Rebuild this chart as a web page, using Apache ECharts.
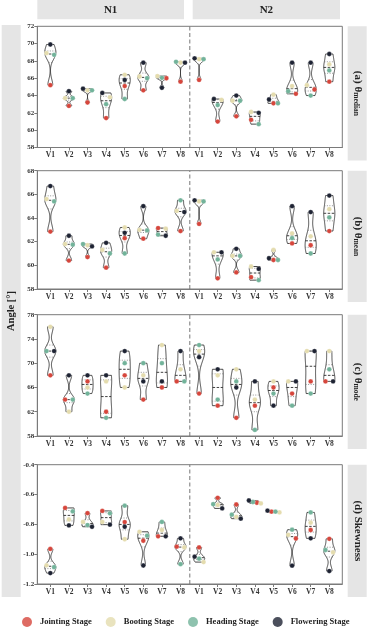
<!DOCTYPE html>
<html><head><meta charset="utf-8">
<script src="https://cdn.jsdelivr.net/npm/echarts@6/dist/echarts.min.js"></script>
<style>html,body{margin:0;padding:0;background:#fff}#c{width:374px;height:630px}</style>
</head><body><div id="c"></div>
<script>
// ---------------- data ----------------
const categories = ['V1','V2','V3','V4','V5','V6','V7','V8'];
const groups = ['N1','N2'];
const stages = ['Jointing Stage','Booting Stage','Heading Stage','Flowering Stage'];
const panelTitles = ['(a) θ|median','(b) θ|mean','(c) θ|mode','(d) Skewness|'];
const yMins = [58, 58, 58, -1.2];
const yMaxs = [72, 68, 78, -0.4];
const ySteps = [2, 2, 4, 0.2];
const yLabelDigits = [0, 0, 0, 1];
const yAxisName = 'Angle [°]';

// each array: N1 V1..V8 then N2 V1..V8
const medianJointing  = [65.2, 62.8, 63.2, 61.4, 65.1, 64.6, 66.0, 65.6, 65.8, 61.0, 61.6, 61.2, 63.1, 64.2, 64.7, 65.6];
const medianBooting   = [68.9, 63.7, 64.6, 63.8, 66.4, 66.2, 66.25, 67.8, 68.2, 63.5, 63.4, 62.1, 64.1, 65.1, 65.2, 67.6];
const medianHeading   = [68.7, 63.7, 64.6, 63.0, 63.6, 66.0, 66.05, 67.9, 68.2, 62.9, 63.4, 60.7, 63.1, 64.5, 64.0, 66.9];
const medianFlowering = [69.9, 64.5, 64.8, 64.3, 65.8, 67.8, 64.9, 67.8, 68.3, 63.6, 64.0, 62.0, 63.55, 67.8, 67.8, 68.8];

const meanJointing  = [62.85, 60.4, 60.7, 59.8, 62.3, 62.25, 63.15, 62.9, 63.5, 58.9, 59.4, 59.0, 60.45, 61.85, 61.7, 62.9];
const meanBooting   = [65.6, 61.8, 61.7, 61.3, 63.2, 63.0, 63.1, 64.6, 65.4, 61.1, 60.8, 59.9, 61.3, 62.7, 62.45, 64.75];
const meanHeading   = [65.4, 61.75, 61.8, 61.0, 61.0, 62.95, 62.6, 65.5, 65.4, 60.5, 60.8, 58.75, 60.45, 62.3, 61.0, 64.05];
const meanFlowering = [66.7, 62.5, 61.6, 61.9, 62.75, 65.0, 62.5, 64.5, 65.5, 61.1, 61.4, 59.7, 60.6, 65.0, 64.5, 65.9];

const modeJointing  = [68, 64, 67, 62, 68, 64, 66, 67, 65, 63, 61, 63, 66, 65, 67, 67];
const modeBooting   = [76, 62, 66, 67, 66, 68, 73, 69, 72, 68, 69, 64, 67, 67, 72, 72];
const modeHeading   = [72, 64, 65, 61, 70, 70, 70, 67, 73, 64, 67, 59, 65, 63, 65, 69];
const modeFlowering = [72, 68, 68, 68, 72, 67, 67, 72, 71, 69, 66, 67, 63, 67, 72, 67];

const skewJointing  = [-0.965, -0.69, -0.725, -0.71, -0.785, -0.91, -0.88, -0.95, -0.955, -0.622, -0.667, -0.655, -0.715, -0.895, -0.838, -0.897];
const skewBooting   = [-1.075, -0.767, -0.784, -0.784, -0.9, -0.85, -0.838, -0.955, -1.053, -0.67, -0.75, -0.66, -0.72, -0.87, -0.789, -0.988];
const skewHeading   = [-1.087, -0.713, -0.805, -0.726, -0.675, -0.876, -0.784, -1.067, -1.03, -0.665, -0.735, -0.65, -0.715, -0.836, -0.72, -0.972];
const skewFlowering = [-1.127, -0.807, -0.816, -0.802, -0.816, -1.076, -0.88, -0.894, -1.017, -0.693, -0.762, -0.64, -0.708, -1.077, -0.894, -1.113];

const panels = [
  [medianJointing, medianBooting, medianHeading, medianFlowering],
  [meanJointing, meanBooting, meanHeading, meanFlowering],
  [modeJointing, modeBooting, modeHeading, modeFlowering],
  [skewJointing, skewBooting, skewHeading, skewFlowering]
];

// ---------------- style / layout ----------------
const stageColors = ['#d6463c', '#e4dcae', '#72b39a', '#1e2333'];
const FONT = "'Liberation Serif','DejaVu Serif',serif";
const gridTops = [26.3, 170.7, 314.7, 464.7];
const gridHeights = [121.2, 118.3, 121.3, 119.3];
const gridLeft = 37.3, gridWidth = 305;
const stripColor = '#e5e5e5';
const xs = Array.from({length: categories.length * groups.length}, (_, i) => i);

function quantile(sorted, p) {
  const h = (sorted.length - 1) * p, lo = Math.floor(h);
  const hi = Math.min(lo + 1, sorted.length - 1);
  return sorted[lo] + (h - lo) * (sorted[hi] - sorted[lo]);
}

function renderViolin(params, api) {
  const x = api.value(0);
  const vals = [api.value(1), api.value(2), api.value(3), api.value(4)];
  const n = vals.length;
  const band = api.size([1, 0])[0];
  const halfW = band * 0.3;
  const cx = api.coord([x, vals[0]])[0];
  const sorted = vals.slice().sort((a, b) => a - b);
  const mean = vals.reduce((s, v) => s + v, 0) / n;
  const sd = Math.sqrt(vals.reduce((s, v) => s + (v - mean) * (v - mean), 0) / (n - 1));
  let lo = Math.min(sd, (quantile(sorted, 0.75) - quantile(sorted, 0.25)) / 1.34);
  if (!(lo > 0)) lo = sd > 0 ? sd : 1;
  const bw = 0.9 * lo * Math.pow(n, -0.2);
  const dens = y => vals.reduce((s, v) => s + Math.exp(-0.5 * ((y - v) / bw) * ((y - v) / bw)), 0);
  const ymin = sorted[0], ymax = sorted[n - 1];
  const children = [];
  if (ymax > ymin) {
    const N = 80; const ys = [], ds = []; let maxD = 0;
    for (let k = 0; k <= N; k++) {
      const y = ymin + (ymax - ymin) * k / N; const d = dens(y);
      ys.push(y); ds.push(d); if (d > maxD) maxD = d;
    }
    const left = [], right = [];
    for (let k = 0; k <= N; k++) {
      const py = api.coord([x, ys[k]])[1];
      const w = ds[k] / maxD * halfW;
      left.push([cx - w, py]); right.unshift([cx + w, py]);
    }
    children.push({type: 'polygon', shape: {points: left.concat(right)},
      style: {fill: 'rgba(255,255,255,0)', stroke: '#1a1a1a', lineWidth: 0.8}});
    [[0.25, [1, 1.5], '#777'], [0.5, [2.5, 1.5], '#111'], [0.75, [1, 1.5], '#777']].forEach(([p, dash, col]) => {
      const qv = quantile(sorted, p);
      const w = dens(qv) / maxD * halfW;
      const py = api.coord([x, qv])[1];
      children.push({type: 'line', shape: {x1: cx - w, y1: py, x2: cx + w, y2: py},
        style: {stroke: col, lineWidth: 0.8, lineDash: dash}});
    });
  }
  // simple swarm: cluster points that overlap vertically
  const pts = vals.map((v, i) => ({v, i, py: api.coord([x, v])[1]}));
  pts.sort((a, b) => a.py - b.py);
  const clusters = []; let cur = [pts[0]];
  for (let k = 1; k < pts.length; k++) {
    if (pts[k].py - cur[cur.length - 1].py < 4.5) cur.push(pts[k]); else { clusters.push(cur); cur = [pts[k]]; }
  }
  clusters.push(cur);
  const offs = {1: [0], 2: [-3.8, 3.8], 3: [-4.5, 0, 4.5], 4: [-6, -2, 2, 6]};
  clusters.forEach(c => c.forEach((p, k) => { p.dx = offs[c.length][k]; }));
  pts.sort((a, b) => a.i - b.i).forEach(p => {
    children.push({type: 'circle', shape: {cx: cx + p.dx, cy: p.py, r: 2.4},
      style: {fill: stageColors[p.i], stroke: 'rgba(255,255,255,0.7)', lineWidth: 0.4}, z2: 10});
  });
  return {type: 'group', children};
}

const grids = [], xAxes = [], yAxes = [], series = [], graphics = [];
panels.forEach((arrs, gi) => {
  grids.push({left: gridLeft, width: gridWidth, top: gridTops[gi], height: gridHeights[gi],
    show: true, borderColor: '#7a7a7a', borderWidth: 1, backgroundColor: 'transparent'});
  xAxes.push({gridIndex: gi, type: 'value', min: -0.7, max: 15.7,
    axisLine: {show: true, onZero: false, lineStyle: {color: '#7a7a7a'}},
    axisTick: {show: true, customValues: xs, length: 3, lineStyle: {color: '#7a7a7a'}},
    axisLabel: {customValues: xs, formatter: v => categories[Math.round(v) % categories.length],
      fontFamily: FONT, fontWeight: 'bold', fontSize: 7.5, color: '#333', margin: 4},
    splitLine: {show: false}});
  yAxes.push({gridIndex: gi, type: 'value', min: yMins[gi], max: yMaxs[gi], interval: ySteps[gi],
    axisLine: {show: true, onZero: false, lineStyle: {color: '#7a7a7a'}},
    axisTick: {show: true, length: 3, lineStyle: {color: '#7a7a7a'}},
    axisLabel: {formatter: v => Number(v).toFixed(yLabelDigits[gi]), fontFamily: FONT, fontWeight: 'bold',
      fontSize: 7, color: '#333', margin: 3},
    splitLine: {show: false}});
  series.push({type: 'line', xAxisIndex: gi, yAxisIndex: gi, silent: true, symbol: 'none',
    data: [[7.5, yMins[gi]], [7.5, yMaxs[gi]]],
    lineStyle: {color: '#777', width: 1, type: [4, 2.5]}, z: 1});
  series.push({type: 'custom', xAxisIndex: gi, yAxisIndex: gi, renderItem: renderViolin,
    encode: {x: 0, y: [1, 2, 3, 4]},
    data: xs.map(i => [i, arrs[0][i], arrs[1][i], arrs[2][i], arrs[3][i]]), z: 3});
  // right strip + title
  const top = gridTops[gi], h = gridHeights[gi] + 13;
  graphics.push({type: 'rect', shape: {x: 347.7, y: top, width: 19, height: h}, style: {fill: stripColor}, silent: true});
  const [main, sub] = panelTitles[gi].split('|');
  graphics.push({type: 'text', x: 357.5, y: top + h / 2, rotation: -Math.PI / 2,
    style: {text: sub ? `{a|${main}}{b|${sub}}` : `{a|${main}}`, align: 'center', verticalAlign: 'middle',
      rich: {a: {fontFamily: FONT, fontWeight: 'bold', fontSize: 11, fill: '#222', lineHeight: 12},
             b: {fontFamily: FONT, fontWeight: 'bold', fontSize: 7.5, fill: '#222', verticalAlign: 'bottom', lineHeight: 12, padding: [5, 0, 0, 0]}}}});
});
stages.forEach((s, i) => series.push({type: 'scatter', name: s, xAxisIndex: 0, yAxisIndex: 0, data: [],
  itemStyle: {color: stageColors[i]}}));

// top strips
[[37.3, 146.7], [192.7, 147.3]].forEach(([x0, w], i) => {
  graphics.push({type: 'rect', shape: {x: x0, y: 0, width: w, height: 19.3}, style: {fill: stripColor}, silent: true});
  graphics.push({type: 'text', x: x0 + w / 2, y: 10, style: {text: groups[i], align: 'center', verticalAlign: 'middle',
    fontFamily: FONT, fontWeight: 'bold', fontSize: 11, fill: '#222'}});
});
// left strip
graphics.push({type: 'rect', shape: {x: 1.7, y: 25, width: 19, height: 572}, style: {fill: stripColor}, silent: true});
graphics.push({type: 'text', x: 11.2, y: 311, rotation: Math.PI / 2,
  style: {text: yAxisName, align: 'center', verticalAlign: 'middle', fontFamily: FONT, fontWeight: 'bold', fontSize: 10.5, fill: '#222'}});

const chart = echarts.init(document.getElementById('c'), null, {renderer: 'canvas'});
chart.setOption({
  animation: false,
  backgroundColor: '#fff',
  grid: grids, xAxis: xAxes, yAxis: yAxes, series,
  legend: {data: stages, left: 17, top: 612, icon: 'circle', itemWidth: 10, itemHeight: 10, itemGap: 14,
    textStyle: {fontFamily: FONT, fontWeight: 'bold', fontSize: 8.5, color: '#222', padding: [0, 0, 0, 3]}},
  graphic: graphics
});
</script></body></html>
